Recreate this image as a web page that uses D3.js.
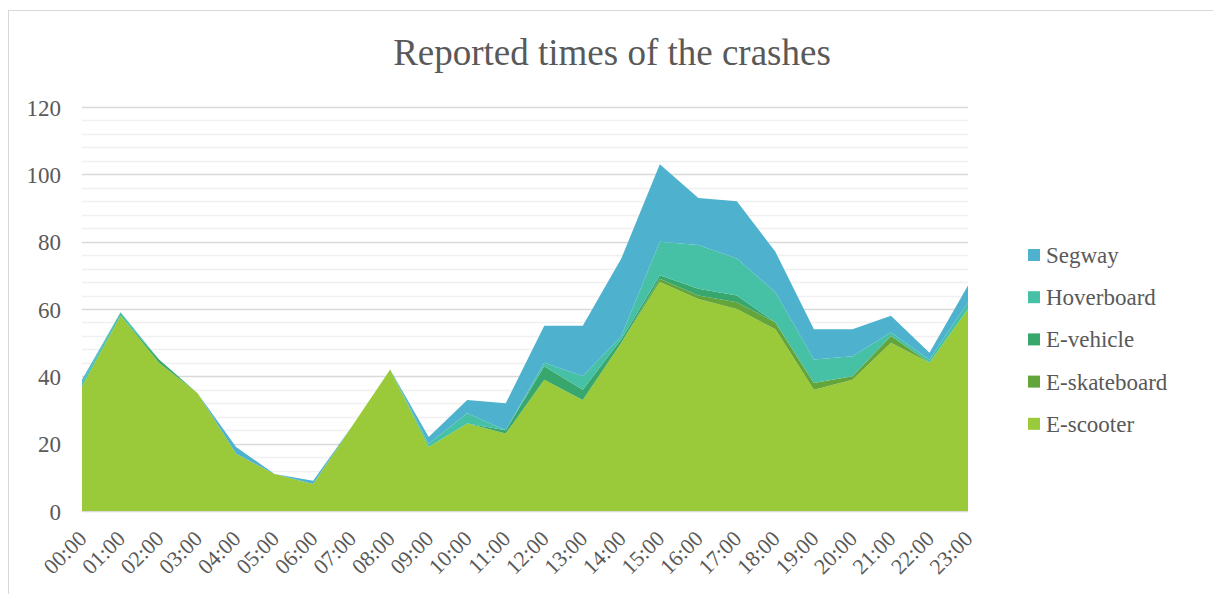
<!DOCTYPE html>
<html>
<head>
<meta charset="utf-8">
<script src="https://cdn.jsdelivr.net/npm/d3@7"></script>
<style>
  body { margin: 0; background: #fff; }
  text { font-family: "Liberation Serif", "Times New Roman", serif; fill: #595959; }
</style>
</head>
<body>
<div id="chart"></div>
<script>
var svgWidth = 1213;
var svgHeight = 594;

// chart values
var hours = ["00:00","01:00","02:00","03:00","04:00","05:00","06:00","07:00","08:00","09:00","10:00","11:00",
             "12:00","13:00","14:00","15:00","16:00","17:00","18:00","19:00","20:00","21:00","22:00","23:00"];
var eScooter    = [37,58,44,35,17,11,8,25,42,19,26,23,39,33,50,68,63,60,54,36,39,50,44,60];
var eSkateboard = [0,0,0,0,0,0,0,0,0,0,0,0,0,0,0,1,1,2,2,2,1,2,0,0];
var eVehicle    = [0,0,1,0,0,0,0,0,0,0,0,1,4,3,1,1,2,2,0,0,0,0,0,0];
var hoverboard  = [1,1,0,0,0,0,0,0,0,1,3,0,1,4,1,10,13,11,9,7,6,1,1,2];
var segway      = [1,0,0,0,2,0,1,0,0,2,4,8,11,15,23,23,14,17,12,9,8,5,2,5];
var yTicks = [0,20,40,60,80,100,120];

var seriesNames = ["E-scooter","E-skateboard","E-vehicle","Hoverboard","Segway"];
var seriesValues = [eScooter, eSkateboard, eVehicle, hoverboard, segway];
var colors = ["#9aca39","#63a53a","#38a76e","#46c1a5","#4eb2cf"];

// build rows for d3.stack
var rows = hours.map(function(h, i) {
  var r = { hour: h };
  seriesNames.forEach(function(n, k) { r[n] = seriesValues[k][i]; });
  return r;
});

var svg = d3.select("#chart")
  .append("svg")
  .attr("width", svgWidth)
  .attr("height", svgHeight);

// outer chart frame
svg.append("rect")
  .attr("x", 8.5).attr("y", 10.5)
  .attr("width", 1215).attr("height", 600)
  .attr("fill", "none")
  .attr("stroke", "#d9d9d9");

var xScale = d3.scalePoint()
  .domain(hours)
  .range([82, 968]);

var yScale = d3.scaleLinear()
  .domain([0, 120])
  .range([511, 107]);

// minor gridlines every 4
svg.append("g")
  .selectAll("line")
  .data(d3.range(4, 120, 4).filter(function(v) { return v % 20 !== 0; }))
  .enter().append("line")
  .attr("x1", 82).attr("x2", 968)
  .attr("y1", function(d) { return Math.round(yScale(d)) + 0.5; })
  .attr("y2", function(d) { return Math.round(yScale(d)) + 0.5; })
  .attr("stroke", "#f0f0f0")
  .attr("stroke-width", 1.5);

// major gridlines
svg.append("g")
  .selectAll("line")
  .data(yTicks)
  .enter().append("line")
  .attr("x1", 82).attr("x2", 968)
  .attr("y1", function(d) { return Math.round(yScale(d)) + 0.5; })
  .attr("y2", function(d) { return Math.round(yScale(d)) + 0.5; })
  .attr("stroke", "#d9d9d9")
  .attr("stroke-width", 1.5);

// stacked areas
var stack = d3.stack().keys(seriesNames);
var layers = stack(rows);

var area = d3.area()
  .x(function(d) { return xScale(d.data.hour); })
  .y0(function(d) { return yScale(d[0]); })
  .y1(function(d) { return yScale(d[1]); });

svg.append("g")
  .selectAll("path")
  .data(layers)
  .enter().append("path")
  .attr("d", area)
  .attr("fill", function(d, i) { return colors[i]; });

// y axis labels
var leftAxis = d3.axisLeft(yScale).tickValues(yTicks).tickSize(0).tickPadding(0);
var yAxis = svg.append("g")
  .attr("transform", "translate(61,0)")
  .call(leftAxis);
yAxis.select(".domain").remove();
yAxis.selectAll("text")
  .attr("font-size", "23px")
  .attr("dy", "0.35em")
  .style("font-family", "Liberation Serif, Times New Roman, serif")
  .style("fill", "#595959");

// x axis labels, rotated
svg.append("g")
  .selectAll("text")
  .data(hours)
  .enter().append("text")
  .attr("text-anchor", "end")
  .attr("font-size", "22px")
  .attr("transform", function(d) { return "translate(" + (xScale(d) + 6) + ",540) rotate(-45)"; })
  .text(function(d) { return d; });

// title
svg.append("text")
  .attr("x", 612)
  .attr("y", 65)
  .attr("text-anchor", "middle")
  .attr("font-size", "37px")
  .text("Reported times of the crashes");

// legend, top entry is the top layer
var legendItems = seriesNames.slice().reverse();
var legendColors = colors.slice().reverse();
var legend = svg.append("g")
  .selectAll("g")
  .data(legendItems)
  .enter().append("g")
  .attr("transform", function(d, i) { return "translate(1028," + (249 + i * 42.2) + ")"; });

legend.append("rect")
  .attr("width", 12).attr("height", 12)
  .attr("fill", function(d, i) { return legendColors[i]; });

legend.append("text")
  .attr("x", 18)
  .attr("y", 14)
  .attr("font-size", "23px")
  .text(function(d) { return d; });
</script>
</body>
</html>
